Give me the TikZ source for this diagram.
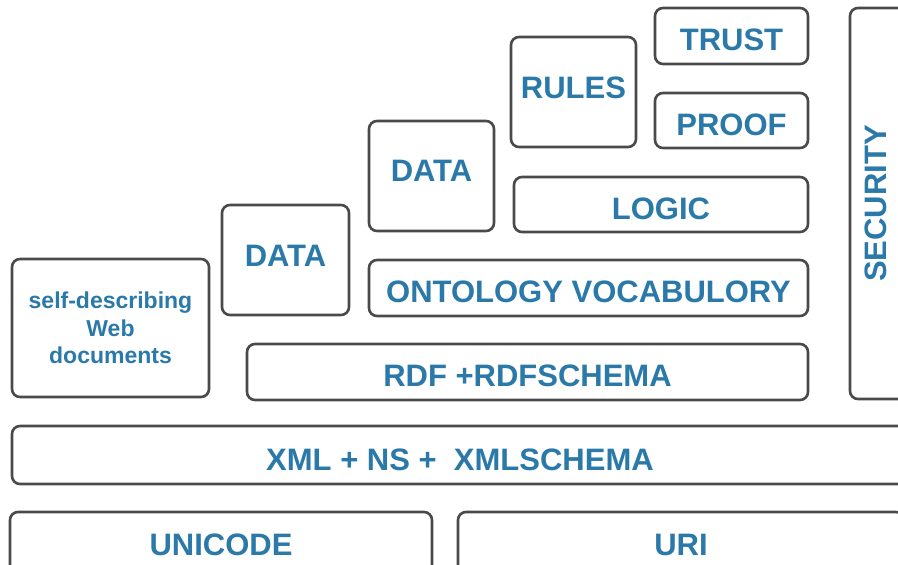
\documentclass[tikz,border=0pt]{standalone}
\usepackage{fontspec}
\setmainfont{Liberation Sans}
\definecolor{txtblue}{HTML}{2A79A9}
\definecolor{edge}{HTML}{4A4A4A}
\newcommand{\shifttxt}[2]{\raisebox{#1}[\height][\depth]{#2}}
\begin{document}
\begin{tikzpicture}[x=1pt,y=-1pt,
  box/.style={draw=edge, line width=2.6pt, rounded corners=8pt, fill=white, inner sep=0pt,
    font=\bfseries\fontsize{31}{33}\selectfont, text=txtblue},
  txt/.style={inner sep=0pt, font=\bfseries\fontsize{31}{33}\selectfont, text=txtblue}]
\useasboundingbox (0,0) rectangle (898,565);
\fill[white] (0,0) rectangle (898,565);
\node[box, minimum width=197pt, minimum height=138pt, align=center,
  font=\bfseries\fontsize{23}{27.5}\selectfont] (self) at (110.5,328) {self-describing\\Web\\documents};
\node[box, minimum width=127pt, minimum height=110pt] (data1) at (285.5,260) {\shifttxt{4pt}{DATA}};
\node[box, minimum width=125pt, minimum height=110pt] (data2) at (431.5,176) {\shifttxt{5pt}{DATA}};
\node[box, minimum width=125pt, minimum height=110pt] (rules) at (573.5,92) {\shifttxt{4pt}{RULES}};
\node[box, minimum width=153pt, minimum height=56pt] (trust) at (731.5,36) {\shifttxt{-4pt}{TRUST}};
\node[box, minimum width=153pt, minimum height=55pt] (proof) at (731.5,120.5) {\shifttxt{-4pt}{PROOF}};
\node[box, minimum width=294pt, minimum height=55pt] (logic) at (661,204.5) {\shifttxt{-4pt}{LOGIC}};
\node[box, minimum width=439pt, minimum height=56pt] (onto) at (588.5,288) {\shifttxt{-4pt}{ONTOLOGY VOCABULORY}};
\node[box, minimum width=561pt, minimum height=56pt] (rdf) at (527.5,372) {\shifttxt{-4pt}{RDF +RDFSCHEMA}};
\node[box, minimum width=100pt, minimum height=391pt] (sec) at (900,203.5) {};
\node[txt, rotate=90] (sectxt) at (876,203.5) {SECURITY};
\node[box, minimum width=896pt, minimum height=58pt] (xml) at (460,455) {\shifttxt{-5pt}{XML + NS + \ XMLSCHEMA}};
\node[box, minimum width=422pt, minimum height=66pt] (uni) at (221,545) {UNICODE};
\node[box, minimum width=446pt, minimum height=66pt] (uri) at (681,545) {URI};
\end{tikzpicture}
\end{document}
